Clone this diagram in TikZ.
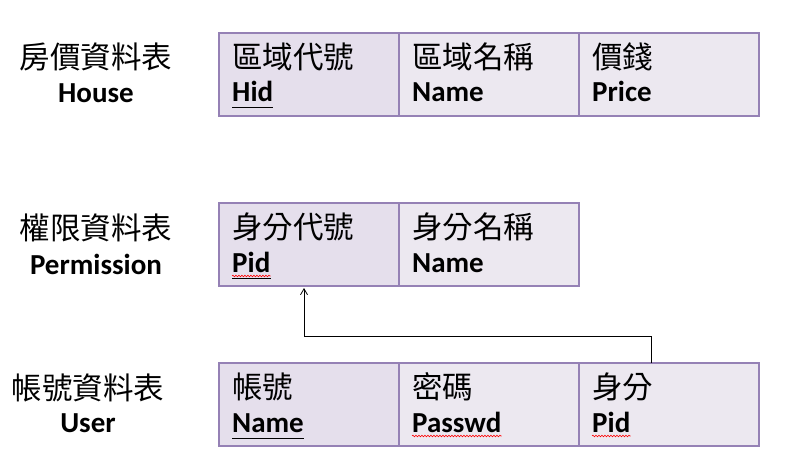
\documentclass[tikz,border=0pt]{standalone}
\usepackage{fontspec}
\setmainfont{Carlito}
\newfontfamily\zhfont{Noto Sans CJK TC}
\usetikzlibrary{positioning, arrows.meta, decorations.pathmorphing}

\begin{document}
\begin{tikzpicture}[
x=1pt, y=-1pt,
cell/.style={rectangle, draw=tablepurple, line width=2pt, fill=cellfill, minimum width=180pt, minimum height=83pt, inner sep=0pt, outer sep=0pt},
keycell/.style={cell, fill=keyfill},
zhtext/.style={font=\zhfont\fontsize{30.5}{33}\selectfont, inner sep=0pt, anchor=west},
entext/.style={font=\bfseries\fontsize{29}{32}\selectfont, inner sep=0pt, anchor=base west},
pkline/.style={line width=1pt},
typo/.style={red, line width=0.6pt, decorate, decoration={snake, amplitude=0.8pt, segment length=3pt}},
fkline/.style={line width=0.8pt, -{Straight Barb[length=6pt, width=7pt]}}
]
\definecolor{tablepurple}{HTML}{9581B5}
\definecolor{keyfill}{HTML}{E5DFEC}
\definecolor{cellfill}{HTML}{ECE8F0}
\useasboundingbox (0,0) rectangle (787,449);

% House table
\node[zhtext, anchor=center] (house_zh) at (96,57) {房價資料表};
\node[entext, anchor=center] (house_en) at (96,93) {House};
\node[keycell, anchor=north west] (house_hid) at (219,33) {};
\node[cell] (house_name) [right=0pt of house_hid] {};
\node[cell] (house_price) [right=0pt of house_name] {};
\node[zhtext] (house_hid_zh) at ([xshift=13pt, yshift=-24pt]house_hid.north west) {區域代號};
\node[entext] (house_hid_en) at ([xshift=13pt, yshift=-69pt]house_hid.north west) {Hid};
\node[zhtext] (house_name_zh) at ([xshift=13pt, yshift=-24pt]house_name.north west) {區域名稱};
\node[entext] (house_name_en) at ([xshift=13pt, yshift=-69pt]house_name.north west) {Name};
\node[zhtext] (house_price_zh) at ([xshift=13pt, yshift=-24pt]house_price.north west) {價錢};
\node[entext] (house_price_en) at ([xshift=13pt, yshift=-69pt]house_price.north west) {Price};
\draw[pkline] ([yshift=-6pt]house_hid_en.base west) -- ([yshift=-6pt]house_hid_en.base east);

% Permission table
\node[zhtext, anchor=center] (perm_zh) at (96,228) {權限資料表};
\node[entext, anchor=center] (perm_en) at (96,264) {Permission};
\node[keycell, anchor=north west] (perm_pid) at (219,203) {};
\node[cell] (perm_name) [right=0pt of perm_pid] {};
\node[zhtext] (perm_pid_zh) at ([xshift=13pt, yshift=-24pt]perm_pid.north west) {身分代號};
\node[entext] (perm_pid_en) at ([xshift=13pt, yshift=-69pt]perm_pid.north west) {Pid};
\node[zhtext] (perm_name_zh) at ([xshift=13pt, yshift=-24pt]perm_name.north west) {身分名稱};
\node[entext] (perm_name_en) at ([xshift=13pt, yshift=-69pt]perm_name.north west) {Name};
\draw[pkline] ([yshift=-6pt]perm_pid_en.base west) -- ([yshift=-6pt]perm_pid_en.base east);
\draw[typo] ([yshift=-4pt]perm_pid_en.base west) -- ([yshift=-4pt]perm_pid_en.base east);

% User table
\node[zhtext, anchor=center] (user_zh) at (88,388) {帳號資料表};
\node[entext, anchor=center] (user_en) at (88,423) {User};
\node[keycell, anchor=north west] (user_name) at (219,363) {};
\node[cell] (user_passwd) [right=0pt of user_name] {};
\node[cell] (user_pid) [right=0pt of user_passwd] {};
\node[zhtext] (user_name_zh) at ([xshift=13pt, yshift=-24pt]user_name.north west) {帳號};
\node[entext] (user_name_en) at ([xshift=13pt, yshift=-69pt]user_name.north west) {Name};
\node[zhtext] (user_passwd_zh) at ([xshift=13pt, yshift=-24pt]user_passwd.north west) {密碼};
\node[entext] (user_passwd_en) at ([xshift=13pt, yshift=-69pt]user_passwd.north west) {Passwd};
\node[zhtext] (user_pid_zh) at ([xshift=13pt, yshift=-24pt]user_pid.north west) {身分};
\node[entext] (user_pid_en) at ([xshift=13pt, yshift=-69pt]user_pid.north west) {Pid};
\draw[pkline] ([yshift=-6pt]user_name_en.base west) -- ([yshift=-6pt]user_name_en.base east);
\draw[typo] ([yshift=-4pt]user_passwd_en.base west) -- ([yshift=-4pt]user_passwd_en.base east);
\draw[typo] ([yshift=-4pt]user_pid_en.base west) -- ([yshift=-4pt]user_pid_en.base east);

% foreign key User.Pid -> Permission.Pid
\draw[fkline] ([xshift=72pt]user_pid.north west) -- ++(0,-27) -| ([xshift=85pt, yshift=-2pt]perm_pid.south west);

\end{tikzpicture}
\end{document}
